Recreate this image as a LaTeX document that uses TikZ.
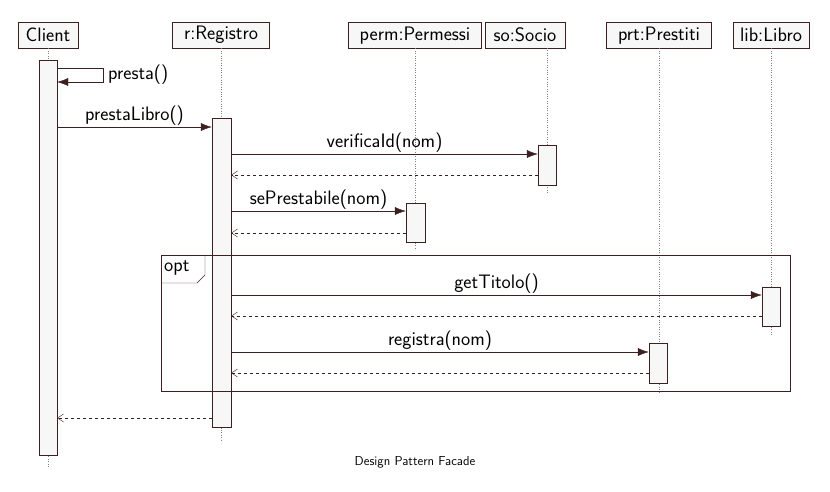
\documentclass[tikz,border=0pt]{standalone}
\usepackage{fontspec}
\usetikzlibrary{arrows.meta}
\definecolor{ln}{HTML}{3C2020}
\definecolor{bx}{HTML}{F7F7F7}
\begin{document}
\begin{tikzpicture}[x=1pt,y=-1pt,font=\sffamily\fontsize{19.5}{22}\selectfont,
 hdr/.style={draw=ln,fill=bx,inner sep=0pt,minimum height=26pt,anchor=north},
 act/.style={draw=ln,fill=bx,inner sep=0pt,minimum width=18pt},
 life/.style={draw=gray,dotted},
 msg/.style={draw=ln,-{Latex[length=11pt,width=8pt]}},
 ret/.style={draw=ln,dashed,-{Straight Barb[length=6pt,width=8pt]}},
 lbl/.style={text=black,inner sep=1pt,anchor=south}]
\useasboundingbox (0,0) rectangle (830,491);
\node[hdr,minimum width=60pt] (cl) at (48,22) {Client};
\node[hdr,minimum width=97pt] (rg) at (221,22) {r:Registro};
\node[hdr,minimum width=133pt] (pm) at (415,22) {perm:Permessi};
\node[hdr,minimum width=80pt] (so) at (525,22) {so:Socio};
\node[hdr,minimum width=105pt] (pr) at (659,22) {prt:Prestiti};
\node[hdr,minimum width=76pt] (lb) at (771,22) {lib:Libro};
% lifelines
\coordinate (clE) at (48,468); \coordinate (rgE) at (221,440);
\coordinate (pmE) at (415,250); \coordinate (soE) at (547,193);
\coordinate (prE) at (659,393); \coordinate (lbE) at (771,336);
\draw[life] (cl.south) -- (clE);
\draw[life] (rg.south) -- (rgE);
\draw[life] (pm.south) -- (pmE);
\draw[life] (547,48) -- (soE);
\draw[life] (pr.south) -- (prE);
\draw[life] (lb.south) -- (lbE);
% activations
\node[act,minimum height=395pt] (aC) at (48,257.5) {};
\node[act,minimum height=309pt,minimum width=19pt] (aR) at (221.5,272.5) {};
\node[act,minimum height=40pt] (aS) at (547,165) {};
\node[act,minimum height=39pt,minimum width=19pt] (aP) at (415.5,222.5) {};
\node[act,minimum height=39pt] (aL) at (771,306.5) {};
\node[act,minimum height=40pt] (aT) at (658,363) {};
% opt frame
\node[draw=ln,minimum width=629pt,minimum height=136pt,inner sep=0pt] (opt) at (475.5,323) {};
\draw[ln] (161,283) -- (197,283) -- (205,275) -- (205,255);
\node[anchor=west,inner sep=0pt] (optl) at (164,268) {opt};
% messages
\draw[msg] (aC.east|-0,68) -- (103,68) -- (103,82) -- (aC.east|-0,82);
\node[anchor=west,inner sep=0pt] (m0) at (108,75) {presta()};
\draw[msg] (aC.east|-0,127) -- node[lbl,pos=0.5]{prestaLibro()} (aR.west|-0,127);
\draw[msg] (aR.east|-0,154) -- node[lbl]{verificaId(nom)} (aS.west|-0,154);
\draw[ret] (aS.west|-0,175) -- (aR.east|-0,175);
\draw[msg] (aR.east|-0,211) -- node[lbl]{sePrestabile(nom)} (aP.west|-0,211);
\draw[ret] (aP.west|-0,233) -- (aR.east|-0,233);
\draw[msg] (aR.east|-0,295) -- node[lbl]{getTitolo()} (aL.west|-0,295);
\draw[ret] (aL.west|-0,316) -- (aR.east|-0,316);
\draw[msg] (aR.east|-0,352) -- node[lbl]{registra(nom)} (aT.west|-0,352);
\draw[ret] (aT.west|-0,373) -- (aR.east|-0,373);
\draw[ret] (aR.west|-0,418) -- (aC.east|-0,418);
\node[font=\sffamily\fontsize{13}{15}\selectfont] (cap) at (415,462) {Design Pattern Facade};
\end{tikzpicture}
\end{document}
